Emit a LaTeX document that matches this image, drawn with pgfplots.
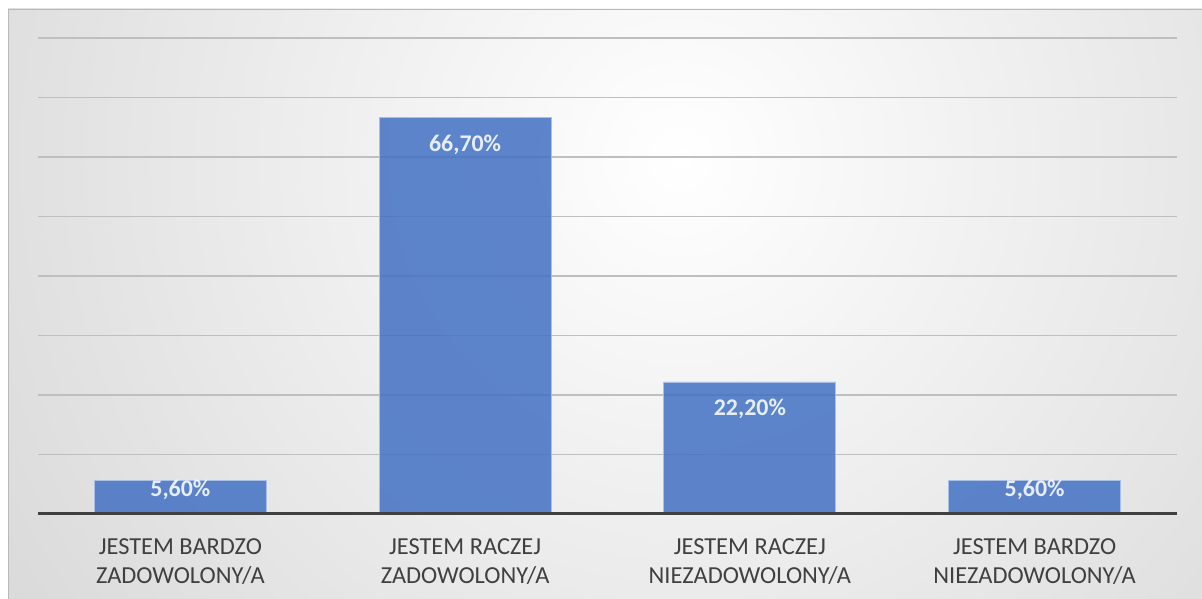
\documentclass[border=0pt]{standalone}
\usepackage{pgfplots}
\pgfplotsset{compat=1.18}
\usepackage{fontspec}
\setmainfont{Carlito}
\definecolor{barblue}{HTML}{4472C4}
\definecolor{baredge}{HTML}{A9BFE6}
\definecolor{txtgray}{HTML}{404040}
\definecolor{gridgray}{HTML}{BFBFBF}
\definecolor{bgouter}{HTML}{BCBCBC}
\begin{document}
\begin{tikzpicture}[x=1bp,y=1bp]
\useasboundingbox (0,0) rectangle (1202,599);
\fill[white] (0,0) rectangle (1202,599);
\begin{scope}
\clip (8,0) rectangle (1202,590);
\fill[bgouter] (8,0) rectangle (1202,590);
\shade[inner color=white, outer color=bgouter] (680,440) circle (1450);
\end{scope}
\draw[color=gray!55, line width=0.8bp] (8,0) -- (8,590) -- (1202,590);
\begin{axis}[
  at={(38bp,85bp)}, anchor=south west,
  scale only axis, width=1139bp, height=476bp,
  xmin=-0.5, xmax=3.5, ymin=0, ymax=80,
  ytick={0,10,...,80}, yticklabels={},
  ymajorgrids, grid style={gridgray, line width=1.3bp},
  axis x line*=bottom, axis y line*=left,
  y axis line style={draw=none},
  x axis line style={draw=none},
  tick style={draw=none},
  xtick={0,1,2,3}, major tick length=0pt,
  xticklabels={{JESTEM BARDZO\\ZADOWOLONY/A},{JESTEM RACZEJ\\ZADOWOLONY/A},{JESTEM RACZEJ\\NIEZADOWOLONY/A},{JESTEM BARDZO\\NIEZADOWOLONY/A}},
  xticklabel style={align=center, text=txtgray, inner sep=0pt, anchor=north, yshift=-24bp,
    font=\fontsize{24.5}{30}\selectfont},
  ybar, bar width=172bp,
  /pgf/number format/assume math mode=true,
  nodes near coords={\pgfmathprintnumber[fixed,fixed zerofill,precision=2,use comma]{\pgfplotspointmeta}\%},
  every node near coord/.append style={anchor=base, text=white, font=\fontsize{24}{28}\bfseries\selectfont, inner sep=0pt},
  clip=false,
]
\addplot[fill=barblue, fill opacity=0.86, draw=baredge, line width=0.8bp, bar shift=0pt,
  every node near coord/.append style={yshift=-34bp}]
  coordinates {(1,66.7) (2,22.2)};
\addplot[fill=barblue, fill opacity=0.86, draw=baredge, line width=0.8bp, bar shift=0pt,
  every node near coord/.append style={yshift=-16bp}]
  coordinates {(0,5.6) (3,5.6)};
\draw[txtgray, line width=3bp] (axis cs:-0.5,0) -- (axis cs:3.5,0);
\end{axis}
\end{tikzpicture}
\end{document}
